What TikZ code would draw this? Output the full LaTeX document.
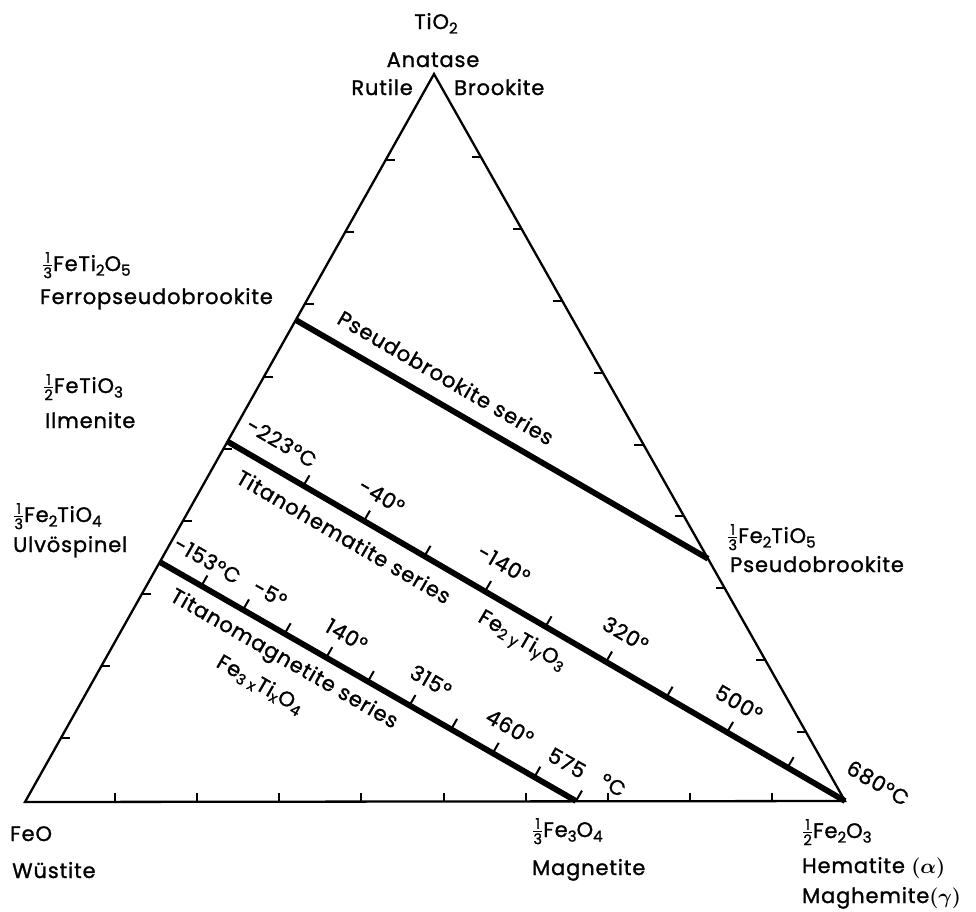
\documentclass[tikz,border=0pt]{standalone}
\usepackage{amsmath}
\usepackage{fontspec}
\setmainfont{Poppins}[LetterSpace=4,FakeBold=1.2]
\usetikzlibrary{calc}
\newcommand\fr[2]{\ensuremath{\tfrac{\text{#1}}{\text{#2}}}}
\newcommand\sbs[1]{\raisebox{-0.4ex}{\scalebox{0.72}{#1}}}
\begin{document}
\begin{tikzpicture}[x=1pt,y=-1pt,
  lab/.style={inner sep=0pt, font=\fontsize{21}{25}\selectfont},
  side/.style={line width=2.3pt, line join=miter},
  tk/.style={line width=2pt},
  series/.style={line width=5.8pt},
  thl/.style={lab, rotate=-30.2},
  tml/.style={lab, rotate=-29.9},
  pbl/.style={lab, rotate=-30.1},
]
\useasboundingbox (0,0) rectangle (976,911);
% triangle
\coordinate (A) at (25,802);
\coordinate (B) at (845,801);
\coordinate (C) at (434,74);
\draw[side] (A) -- (B) -- (C) -- cycle;
% side ticks
\foreach \y in {738.2,665.9,593.6,521.3,449,376.7,304.4,232,160}
  {\draw[tk] ({25+(802-\y)*0.5618},\y) -- ++(9,0);}
\foreach \y in {731.7,659.9,588.1,516.3,444.5,372.7,300.9,229.1,157.3}
  {\draw[tk] ({845-(801-\y)*0.5653},\y) -- ++(-9,0);}
\foreach \x in {115.1,197.2,279.3,361.4,443.5,525.6,607.7,689.8,771.9}
  {\draw[tk] (\x,802) -- ++(0,-9);}
% series end points
\coordinate (FTi2) at (295.8,320);
\coordinate (FT5) at (708,558.7);
\coordinate (Ilm) at (227.5,441.5);
\coordinate (Ulv) at (159.8,562);
\coordinate (Mag) at (576,801);
\draw[series] (FTi2) -- (FT5);
\draw[series] (Ilm) -- (B);
\draw[series] (Ulv) -- (Mag);
% ticks on series lines
\foreach \f in {0.123,0.221,0.319,0.417,0.515,0.613,0.711,0.809,0.907}
  {\coordinate (t) at ($(Ilm)!\f!(B)$);
   \draw[tk] (t) -- ($(t)!12pt!-90:(Ilm)$);}
\foreach \f in {0.1,0.2,0.3,0.4,0.5,0.6,0.7,0.8,0.9,1.0}
  {\coordinate (t) at ($(Ulv)!\f!(Mag)$);
   \draw[tk] (t) -- ($(t)!12pt!-90:(Ulv)$);}
% corner labels
\node[lab, anchor=base] (tio2) at (436,29) {TiO\sbs{2}};
\node[lab, anchor=base] (anat) at (433,67) {Anatase};
\node[lab, anchor=base east] (rut) at (413,95) {Rutile};
\node[lab, anchor=base west] (brk) at (454,95) {Brookite};
\node[lab, anchor=base west] (fti2o5) at (42,271) {\fr13FeTi\sbs{2}O\sbs{5}};
\node[lab, anchor=base west] (ferro) at (40,304) {Ferropseudobrookite};
\node[lab, anchor=base west] (ftio3) at (43,393) {\fr12FeTiO\sbs{3}};
\node[lab, anchor=base west] (ilmn) at (45,428) {Ilmenite};
\node[lab, anchor=base west] (f2tio4) at (13,522) {\fr13Fe\sbs{2}TiO\sbs{4}};
\node[lab, anchor=base west] (ulvn) at (13,552) {Ulvöspinel};
\node[lab, anchor=base west] (feo) at (10,841) {FeO};
\node[lab, anchor=base west] (wus) at (12,878) {Wüstite};
\node[lab, anchor=base west] (fe3o4) at (532,837) {\fr13Fe\sbs{3}O\sbs{4}};
\node[lab, anchor=base west] (magn) at (532,875) {Magnetite};
\node[lab, anchor=base west] (fe2o3) at (802,838) {\fr12Fe\sbs{2}O\sbs{3}};
\node[lab, anchor=base west] (hem) at (802,873) {Hematite {\boldmath$(\alpha)$}};
\node[lab, anchor=base west] (mgh) at (802,903) {Maghemite{\boldmath$(\gamma)$}};
\node[lab, anchor=base west] (f2tio5) at (727,543) {\fr13Fe\sbs{2}TiO\sbs{5}};
\node[lab, anchor=base west] (pbk) at (730,572) {Pseudobrookite};
% series labels
\node[pbl] (pbs) at (446,377.5) {Pseudobrookite series};
\node[thl] (ths) at (344,536.5) {Titanohematite series};
\node[thl] (thf) at (521.5,642) {Fe\textsubscript{2 y}Ti\textsubscript{y}O\textsubscript{3}};
\node[thl] (h1) at (281.7,442.5) {-223°C};
\node[thl] (h2) at (381.7,496) {-40°};
\node[thl] (h3) at (504,564) {-140°};
\node[thl] (h4) at (625.7,634) {320°};
\node[thl] (h5) at (739,703) {500°};
\node[thl] (h6) at (878,783) {680°C};
\node[tml] (tms) at (283.5,660) {Titanomagnetite series};
\node[tml] (tmf) at (260,685) {Fe\textsubscript{3 x}Ti\textsubscript{x}O\textsubscript{4}};
\node[tml] (m1) at (207.5,560) {-153°C};
\node[tml] (m2) at (270,593.5) {-5°};
\node[tml] (m3) at (346.7,635) {140°};
\node[tml] (m4) at (431,681) {315°};
\node[tml] (m5) at (510,727) {460°};
\node[tml] (m6) at (567,763) {575};
\node[tml] (m7) at (613,785) {°C};
\end{tikzpicture}
\end{document}
